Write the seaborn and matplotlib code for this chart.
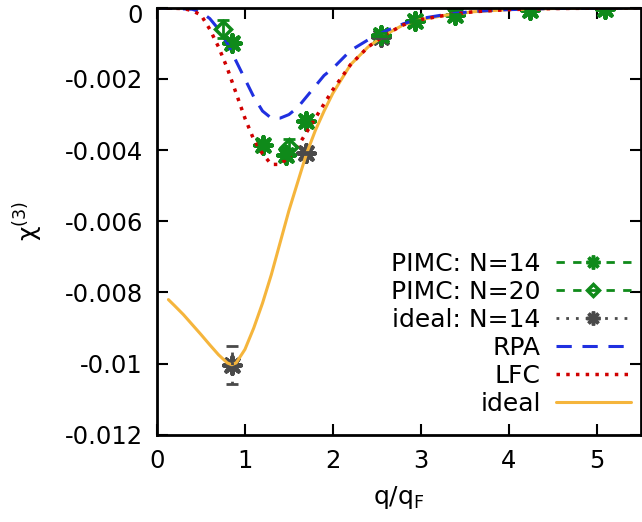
import matplotlib
matplotlib.use('Agg')
import matplotlib.pyplot as plt
import matplotlib.transforms as mtransforms
import seaborn as sns
import numpy as np
import pandas as pd
from matplotlib.lines import Line2D

# theory curves
q_ideal = [0.13, 0.2, 0.3, 0.4, 0.5, 0.6, 0.7, 0.8, 0.85, 0.9, 1.0, 1.1, 1.2, 1.3, 1.4,
           1.5, 1.6, 1.7, 1.8, 1.9, 2.0, 2.2, 2.4, 2.6, 2.8, 3.0, 3.3, 3.6, 4.0, 4.5, 5.0, 5.5]
chi_ideal = [-0.0082, -0.00837, -0.00862, -0.0089, -0.00918, -0.00947, -0.00975, -0.00998,
             -0.01003, -0.00998, -0.0096, -0.0090, -0.0083, -0.0075, -0.0066, -0.0057,
             -0.0049, -0.0041, -0.00345, -0.0029, -0.0024, -0.0016, -0.0011, -0.00075,
             -0.00048, -0.00033, -0.0002, -0.00011, -0.00005, -0.00002, -0.00001, 0.0]

q_lfc = [0.0, 0.3, 0.4, 0.5, 0.6, 0.7, 0.8, 0.9, 1.0, 1.1, 1.2, 1.3, 1.4, 1.5, 1.6,
         1.7, 1.8, 1.9, 2.0, 2.2, 2.4, 2.6, 2.8, 3.0, 3.3, 3.6, 4.0, 4.5, 5.0, 5.5]
chi_lfc = [0.0, -0.00002, -0.00008, -0.0002, -0.0006, -0.0011, -0.0017, -0.0024,
           -0.0031, -0.0037, -0.0041, -0.0044, -0.0044, -0.0042, -0.0039, -0.0035,
           -0.0031, -0.0027, -0.0023, -0.0016, -0.0011, -0.00075, -0.00048, -0.00033,
           -0.0002, -0.00011, -0.00005, -0.00002, -0.00001, 0.0]

q_rpa = [0.0, 0.4, 0.5, 0.6, 0.7, 0.8, 0.9, 1.0, 1.1, 1.2, 1.3, 1.4, 1.5, 1.6, 1.7,
         1.8, 1.9, 2.0, 2.2, 2.4, 2.6, 2.8, 3.0, 3.3, 3.6, 4.0, 4.5, 5.0, 5.5]
chi_rpa = [0.0, -0.00004, -0.00012, -0.0003, -0.0006, -0.0010, -0.0015, -0.0020,
           -0.0025, -0.0029, -0.0031, -0.0031, -0.0030, -0.0028, -0.0025, -0.0022,
           -0.0019, -0.0017, -0.0012, -0.0009, -0.00065, -0.00045, -0.0003, -0.00018,
           -0.0001, -0.00005, -0.00002, -0.00001, 0.0]

# simulation points
q_p14 = [0.85, 1.21, 1.47, 1.70, 2.55, 2.93, 3.39, 4.24, 5.09]
chi_p14 = [-0.00099, -0.00385, -0.00413, -0.00319, -0.00075, -0.00036, -0.0002, -0.00005, -0.00003]
err_p14 = [0.00008, 0.00006, 0.00008, 0.00006, 0.00004, 0.00003, 0.00002, 0.00001, 0.00001]

q_p20 = [0.75, 1.50]
chi_p20 = [-0.0006, -0.0039]
err_p20 = [0.00025, 0.00022]

q_id14 = [0.85, 1.70, 2.55]
chi_id14 = [-0.01003, -0.00408, -0.00082]
err_id14 = [0.00054, 0.00004, 0.00002]

green = '#0f8a1a'
grey = '#4a4a4a'
blue = '#2030e0'
red = '#d00000'
orange = '#f5b53c'

sns.set_style('ticks', {'axes.edgecolor': 'black', 'text.color': 'black',
                        'xtick.color': 'black', 'ytick.color': 'black',
                        'axes.labelcolor': 'black'})
plt.rcParams['font.family'] = ['DejaVu Sans']
plt.rcParams['font.size'] = 18

fig = plt.figure(figsize=(6.42, 5.22), dpi=100)
ax = fig.add_axes([0.2445, 0.167, 0.7535, 0.818])

sns.lineplot(x=q_ideal, y=chi_ideal, ax=ax, color=orange, lw=2.2, sort=False)
sns.lineplot(x=q_rpa, y=chi_rpa, ax=ax, color=blue, lw=2.2,
             linestyle=(0, (5, 3.5)), sort=False)
sns.lineplot(x=q_lfc, y=chi_lfc, ax=ax, color=red, lw=2.5,
             linestyle=(0, (1, 1.8)), sort=False)

star = (8, 2, 0)
eb = ax.errorbar(q_id14, chi_id14, yerr=err_id14, fmt='none', ecolor=grey,
                 elinewidth=2, capsize=4, capthick=2)
eb[2][0].set_linestyle((0, (1, 2.5)))
sns.scatterplot(x=q_id14, y=chi_id14, ax=ax, marker=star, s=150, color=grey,
                edgecolor=grey, linewidth=3)

ax.errorbar(q_p14, chi_p14, yerr=err_p14, fmt='none', ecolor=green,
            elinewidth=2, capsize=4, capthick=2)
sns.scatterplot(x=q_p14, y=chi_p14, ax=ax, marker=star, s=150, color=green,
                edgecolor=green, linewidth=3)
ax.errorbar(q_p20, chi_p20, yerr=err_p20, fmt='none', ecolor=green,
            elinewidth=2, capsize=4, capthick=2)
ax.plot(q_p20, chi_p20, linestyle='none', marker='D', ms=8.5, mfc='none',
        mec=green, mew=2.5)

ax.set_xlim(0, 5.5)
ax.set_ylim(-0.012, 0)
ax.set_xticks([0, 1, 2, 3, 4, 5])
ax.set_yticks([0, -0.002, -0.004, -0.006, -0.008, -0.01, -0.012])
ax.set_yticklabels(['0', '-0.002', '-0.004', '-0.006', '-0.008', '-0.01', '-0.012'])
ax.tick_params(direction='in', length=8, width=1.5, top=True, right=True,
               labelsize=17.5, pad=10)
for s in ax.spines.values():
    s.set_linewidth(2)
# nudge the top "0" label down so it is not clipped
top_lab = ax.get_yticklabels()[0]
top_lab.set_transform(top_lab.get_transform() +
                      mtransforms.ScaledTranslation(0, -4 / 72, fig.dpi_scale_trans))
ax.set_xlabel('q/q$_\\mathregular{F}$', fontsize=18, labelpad=8)
ax.set_ylabel('χ$^\\mathregular{(3)}$', fontsize=18, labelpad=14)

handles = [
    Line2D([], [], color=green, ls=(0, (3, 3)), lw=2, marker=star, ms=10, mew=2.5),
    Line2D([], [], color=green, ls=(0, (3, 3)), lw=2, marker='D', ms=6, mfc='none', mew=2.5),
    Line2D([], [], color=grey, ls=(0, (1, 2.5)), lw=2, marker=star, ms=10, mew=2.5),
    Line2D([], [], color=blue, ls=(0, (5, 3.5)), lw=2.2),
    Line2D([], [], color=red, ls=(0, (1, 1.8)), lw=2.5),
    Line2D([], [], color=orange, lw=2.2),
]
labels = ['PIMC: N=14', 'PIMC: N=20', 'ideal: N=14', 'RPA', 'LFC', 'ideal']
ax.legend(handles, labels, loc='lower right', frameon=False, markerfirst=False,
          handlelength=3.0, handletextpad=0.6, fontsize=18, labelspacing=0.16,
          bbox_to_anchor=(1.0, 0.021), borderaxespad=0.0)

fig.savefig('out.png', dpi=100)
